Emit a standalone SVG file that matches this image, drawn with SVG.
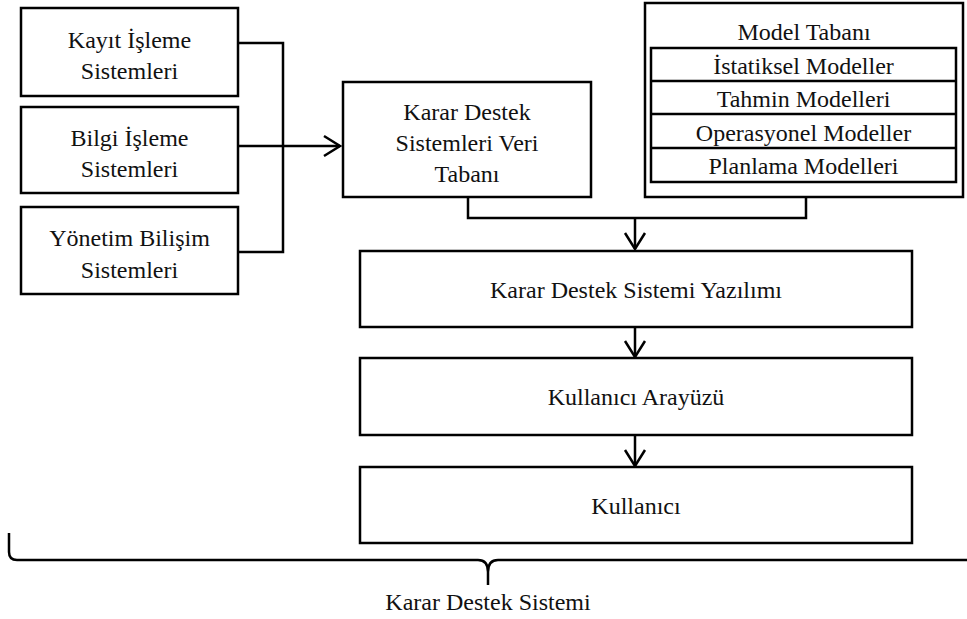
<svg xmlns="http://www.w3.org/2000/svg" width="967" height="619" viewBox="0 0 967 619">
<style>
.box{fill:#fff;stroke:#000;stroke-width:2.5}
.ln{fill:none;stroke:#000;stroke-width:2.5}
</style>
<defs>
<marker id="ah" markerUnits="userSpaceOnUse" viewBox="0 0 20 24" refX="18" refY="12" markerWidth="20" markerHeight="24" orient="auto">
<path d="M2,2 L18,12 L2,22" fill="none" stroke="#000" stroke-width="2.5"/>
</marker>
</defs>
<rect width="967" height="619" fill="#fff"/>
<g id="connectors">
<path class="ln" d="M238,43 H283 V252 H238"/>
<path class="ln" d="M238,146 H340" marker-end="url(#ah)"/>
<path class="ln" d="M468,197 V218 H806 V197"/>
<path class="ln" d="M635,218 V249" marker-end="url(#ah)"/>
<path class="ln" d="M635,327 V357" marker-end="url(#ah)"/>
<path class="ln" d="M635,435 V466" marker-end="url(#ah)"/>
</g>
<g font-family="Liberation Serif, serif" font-size="24" fill="#111" text-anchor="middle">
<g id="kayit">
<rect class="box" x="21" y="8" width="217" height="88"/>
<text x="129.5" y="48">Kayıt İşleme</text>
<text x="129.5" y="79">Sistemleri</text>
</g>
<g id="bilgi">
<rect class="box" x="21" y="107" width="217" height="86"/>
<text x="129.5" y="146">Bilgi İşleme</text>
<text x="129.5" y="177">Sistemleri</text>
</g>
<g id="yonetim">
<rect class="box" x="21" y="207" width="217" height="87"/>
<text x="129.5" y="246">Yönetim Bilişim</text>
<text x="129.5" y="278">Sistemleri</text>
</g>
<g id="veritabani">
<rect class="box" x="343" y="82" width="248" height="115"/>
<text x="467" y="120">Karar Destek</text>
<text x="467" y="151">Sistemleri Veri</text>
<text x="467" y="182">Tabanı</text>
</g>
<g id="modeltabani">
<rect class="box" x="645" y="3" width="318" height="194"/>
<text x="804" y="40">Model Tabanı</text>
<rect class="box" x="651" y="48" width="305" height="134"/>
<path class="ln" d="M651,81 H956 M651,114 H956 M651,148 H956"/>
<text x="803.5" y="74">İstatiksel Modeller</text>
<text x="803.5" y="107">Tahmin Modelleri</text>
<text x="803.5" y="141">Operasyonel Modeller</text>
<text x="803.5" y="174">Planlama Modelleri</text>
</g>
<g id="yazilim">
<rect class="box" x="360" y="251" width="552" height="76"/>
<text x="636" y="298">Karar Destek Sistemi Yazılımı</text>
</g>
<g id="arayuz">
<rect class="box" x="360" y="358" width="552" height="77"/>
<text x="636" y="405">Kullanıcı Arayüzü</text>
</g>
<g id="kullanici">
<rect class="box" x="360" y="467" width="552" height="76"/>
<text x="636" y="514">Kullanıcı</text>
</g>
<g id="brace">
<path class="ln" d="M9,533 V552 Q9,560 17,560 H478 Q488,560 488,572 V585 M488,572 Q488,560 498,560 H967"/>
<text x="488" y="610">Karar Destek Sistemi</text>
</g>
</g>
</svg>
